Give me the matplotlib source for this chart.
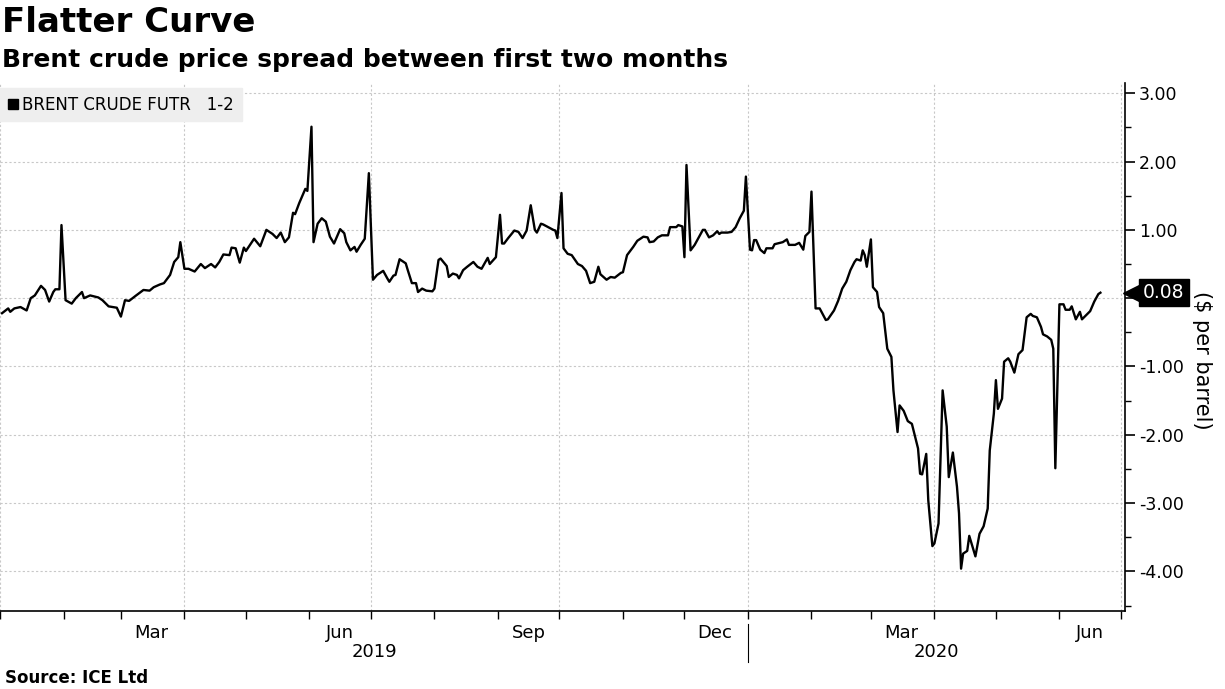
import matplotlib
matplotlib.use("Agg")
import matplotlib.pyplot as plt
import matplotlib.dates as mdates
import matplotlib.transforms as mtransforms
from matplotlib.lines import Line2D
from matplotlib.ticker import FuncFormatter, MultipleLocator
import numpy as np
import pandas as pd

narrow = ["Liberation Sans Narrow", "DejaVu Sans"]

# days since 2019-01-01
start = "2019-01-01"
day = [1, 4, 5, 7, 10, 13, 15, 17, 20, 22,
       24, 26, 27, 29, 30, 32, 35, 37, 40, 41,
       44, 48, 50, 53, 57, 59, 61, 63, 66, 70,
       73, 75, 78, 80, 83, 85, 87, 88, 90, 92,
       95, 98, 100, 103, 105, 107, 109, 112, 113, 115,
       117, 119, 120, 124, 127, 130, 133, 135, 137, 139,
       141, 143, 144, 146, 149, 150, 152, 153, 155, 157,
       159, 161, 163, 166, 168, 169, 171, 173, 174, 176,
       178, 180, 182, 184, 187, 189, 190, 192, 193, 195,
       198, 199, 201, 203, 204, 206, 208, 211, 212, 214,
       215, 218, 219, 221, 223, 224, 226, 228, 231, 233,
       235, 238, 239, 242, 244, 245, 246, 248, 251, 253,
       255, 257, 259, 261, 262, 264, 265, 270, 271, 272,
       274, 275, 277, 279, 282, 284, 286, 288, 290, 292,
       293, 296, 298, 300, 303, 304, 306, 309, 311, 314,
       316, 317, 319, 321, 323, 326, 327, 330, 331, 333,
       334, 335, 337, 339, 343, 344, 346, 348, 350, 351,
       352, 355, 357, 359, 361, 363, 364, 366, 367, 368,
       369, 371, 373, 374, 377, 378, 382, 384, 385, 388,
       390, 392, 393, 395, 396, 398, 400, 403, 404, 407,
       409, 411, 413, 415, 417, 418, 420, 421, 422, 423,
       425, 426, 428, 429, 431, 433, 435, 436, 438, 439,
       441, 443, 445, 448, 449, 450, 452, 453, 455, 456,
       458, 460, 462, 463, 465, 467, 468, 469, 470, 472,
       473, 476, 478, 480, 482, 483, 485, 486, 487, 489,
       490, 492, 493, 495, 497, 499, 501, 503, 504, 506,
       508, 509, 511, 513, 514, 515, 517, 519, 520, 522,
       523, 525, 527, 528, 530, 532, 534, 536, 537]
spread = [-0.22, -0.15, -0.20, -0.15, -0.13, -0.18, 0.00, 0.04, 0.18, 0.12,
          -0.05, 0.09, 0.13, 0.13, 1.07, -0.03, -0.08, 0.00, 0.09, 0.00,
          0.04, 0.01, -0.03, -0.12, -0.14, -0.27, -0.03, -0.04, 0.03, 0.12,
          0.11, 0.16, 0.20, 0.22, 0.34, 0.53, 0.60, 0.82, 0.43, 0.43,
          0.39, 0.50, 0.44, 0.50, 0.45, 0.53, 0.64, 0.63, 0.74, 0.73,
          0.52, 0.74, 0.69, 0.87, 0.76, 1.00, 0.94, 0.88, 0.96, 0.82,
          0.89, 1.25, 1.23, 1.39, 1.60, 1.57, 2.51, 0.82, 1.09, 1.17,
          1.12, 0.90, 0.80, 1.01, 0.95, 0.82, 0.70, 0.75, 0.68, 0.78,
          0.87, 1.83, 0.27, 0.34, 0.40, 0.29, 0.24, 0.33, 0.34, 0.57,
          0.51, 0.41, 0.22, 0.22, 0.09, 0.14, 0.11, 0.10, 0.14, 0.56,
          0.58, 0.47, 0.31, 0.36, 0.34, 0.29, 0.41, 0.46, 0.53, 0.46,
          0.43, 0.59, 0.50, 0.60, 1.22, 0.80, 0.80, 0.88, 0.99, 0.97,
          0.88, 0.99, 1.36, 1.00, 0.96, 1.09, 1.08, 1.00, 0.99, 0.88,
          1.54, 0.73, 0.65, 0.63, 0.50, 0.47, 0.40, 0.22, 0.24, 0.46,
          0.35, 0.27, 0.31, 0.30, 0.37, 0.38, 0.63, 0.75, 0.84, 0.90,
          0.89, 0.82, 0.83, 0.89, 0.92, 0.92, 1.04, 1.04, 1.07, 1.05,
          0.60, 1.95, 0.70, 0.78, 1.00, 1.00, 0.89, 0.92, 0.98, 0.94,
          0.96, 0.96, 0.97, 1.04, 1.17, 1.28, 1.78, 0.71, 0.70, 0.85,
          0.85, 0.71, 0.66, 0.73, 0.73, 0.79, 0.82, 0.86, 0.78, 0.78,
          0.81, 0.71, 0.91, 0.97, 1.56, -0.15, -0.15, -0.32, -0.31, -0.18,
          -0.04, 0.14, 0.24, 0.41, 0.53, 0.57, 0.55, 0.70, 0.63, 0.46,
          0.86, 0.16, 0.09, -0.13, -0.22, -0.74, -0.86, -1.35, -1.96, -1.57,
          -1.65, -1.80, -1.84, -2.20, -2.57, -2.58, -2.28, -2.96, -3.63, -3.59,
          -3.30, -1.35, -1.88, -2.62, -2.26, -2.76, -3.15, -3.96, -3.74, -3.70,
          -3.48, -3.78, -3.45, -3.34, -3.08, -2.23, -1.69, -1.20, -1.62, -1.47,
          -0.93, -0.88, -0.93, -1.09, -0.82, -0.76, -0.28, -0.23, -0.26, -0.28,
          -0.42, -0.53, -0.56, -0.61, -0.74, -2.49, -0.09, -0.09, -0.17, -0.17,
          -0.12, -0.31, -0.20, -0.31, -0.25, -0.19, -0.05, 0.06, 0.08]

month_labels = ["Mar", "Jun", "Sep", "Dec", "Mar", "Jun"]
month_pos = ["2019-03-16", "2019-06-16", "2019-09-16", "2019-12-16",
             "2020-03-16", "2020-06-16"]
years = ["2019", "2020"]

dates = pd.Timestamp(start) + pd.to_timedelta(day, unit="D")
x0, x1 = pd.Timestamp("2019-01-01"), pd.Timestamp("2020-07-03")
new_year = pd.Timestamp("2020-01-01")

fig = plt.figure(figsize=(12.25, 6.89), dpi=100)
ax = fig.add_axes([0, 1 - 611 / 689, 1125 / 1225, 528 / 689])

ax.plot(dates, spread, color="black", lw=1.7, zorder=3)
ax.set_xlim(x0, x1)
ax.set_ylim(-4.58, 3.15)

# y axis on the right; the 0.00 label sits under the last-value tag
ax.yaxis.tick_right()
ax.set_yticks(np.arange(-4, 3.01, 1))
ax.yaxis.set_major_formatter(FuncFormatter(lambda v, p: "" if abs(v) < 1e-9 else f"{v:.2f}"))
ax.yaxis.set_minor_locator(MultipleLocator(0.5))
ax.tick_params(axis="y", which="major", length=7, width=1.2, labelsize=12.5, pad=3)
ax.tick_params(axis="y", which="minor", length=4, width=1)
ax.set_ylabel("($ per barrel)", rotation=270, fontsize=15, va="center", ha="center")
ax.yaxis.set_label_position("right")
ax.yaxis.set_label_coords(1.077, 0.475)

# x axis: quarter grid, monthly ticks
ax.xaxis.set_major_locator(mdates.MonthLocator(bymonth=[1, 4, 7, 10]))
ax.xaxis.set_minor_locator(mdates.MonthLocator())
ax.xaxis.set_major_formatter(plt.NullFormatter())
ax.tick_params(axis="x", which="both", length=6, width=1, direction="out")

sec = ax.secondary_xaxis("bottom")
sec.set_xticks(pd.to_datetime(month_pos), month_labels)
sec.tick_params(length=0, pad=9, labelsize=13)
for lab in sec.get_xticklabels():
    lab.set_family(narrow)
sec.spines["bottom"].set_visible(False)

for s in ["left", "top"]:
    ax.spines[s].set_visible(False)
for s in ["right", "bottom"]:
    ax.spines[s].set_linewidth(1.2)

ax.grid(which="major", color="#c8c8c8", ls=(0, (2, 2)), lw=0.8)
ax.set_axisbelow(True)

# year labels and separator
blend = mtransforms.blended_transform_factory(ax.transData, ax.transAxes)
ax.text(x0 + (new_year - x0) / 2, -0.078, years[0], transform=blend,
        ha="center", va="center", fontsize=13, family=narrow)
ax.text(new_year + (x1 - new_year) / 2, -0.078, years[1], transform=blend,
        ha="center", va="center", fontsize=13, family=narrow)
ax.plot([new_year, new_year], [-0.025, -0.097], transform=blend,
        color="black", lw=0.8, clip_on=False)

# last value tag
tag = mtransforms.blended_transform_factory(ax.transAxes, ax.transData)
ax.plot([1.005], [spread[-1]], marker="<", color="black", markersize=11,
        transform=tag, clip_on=False, zorder=5)
ax.text(1.016, spread[-1], f"{spread[-1]:.2f}", transform=tag, color="white",
        fontsize=13.5, va="center", ha="left", zorder=6,
        bbox=dict(boxstyle="square,pad=0.22", fc="black", ec="black"))

# legend
handle = Line2D([], [], marker="s", ls="none", color="black", markersize=7)
ax.legend([handle], ["BRENT CRUDE FUTR   1-2"], loc="upper left",
          bbox_to_anchor=(0, 0.99), borderaxespad=0, frameon=True, fancybox=False,
          facecolor="#eeeeee", edgecolor="#eeeeee", framealpha=1,
          handlelength=0.6, handletextpad=0.3, borderpad=0.45,
          prop={"family": narrow, "size": 12})

fig.text(0.002, 1 - 6 / 689, "Flatter Curve", fontsize=24.5, fontweight="bold", va="top")
fig.text(0.002, 1 - 48 / 689, "Brent crude price spread between first two months",
         fontsize=18, fontweight="bold", va="top")
fig.text(0.004, 1 - 678 / 689, "Source: ICE Ltd", fontsize=12, fontweight="bold", va="center")

fig.savefig("out.png", dpi=100)
